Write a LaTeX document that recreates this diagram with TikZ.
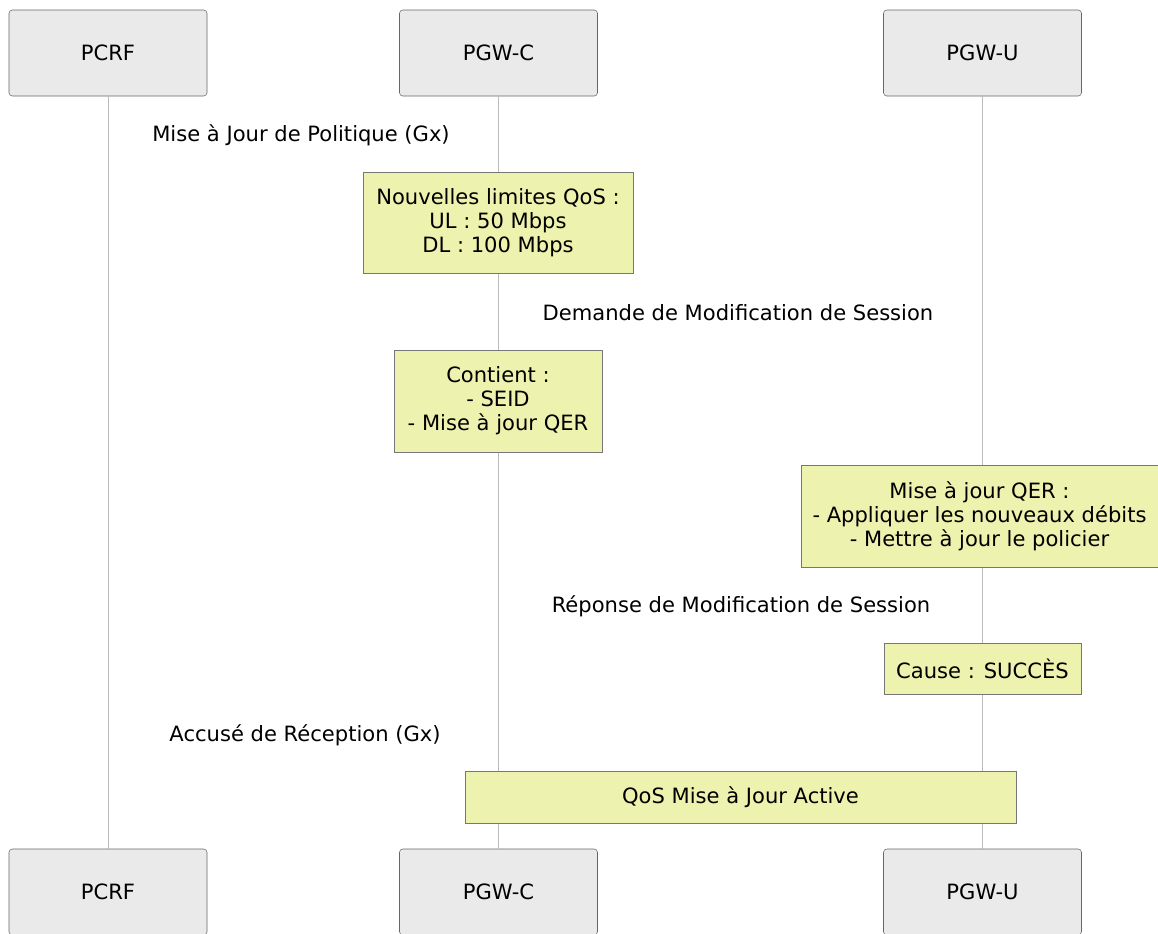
\documentclass[tikz,border=0pt]{standalone}
\usepackage{fontspec}
\setmainfont{DejaVu Sans}
\usetikzlibrary{positioning}
\definecolor{actorfill}{HTML}{EAEAEA}
\definecolor{actorline}{HTML}{666666}
\definecolor{notefill}{HTML}{EDF2AE}
\definecolor{noteline}{HTML}{777777}
\definecolor{lifeline}{HTML}{BBBBBB}
\tikzset{
  actor/.style={draw=actorline, fill=actorfill, rounded corners=2.5pt,
    minimum width=148.5pt, minimum height=64.5pt, font=\fontsize{15.8}{18}\selectfont},
  note/.style={draw=noteline, fill=notefill, align=center, inner sep=0pt,
    font=\fontsize{15.8}{18}\selectfont},
  msg/.style={font=\fontsize{15.8}{18}\selectfont},
}

\begin{document}
\begin{tikzpicture}[x=0.75pt, y=-0.75pt]
  \useasboundingbox (0,0) rectangle (1158,933);
  % actors, top and bottom
  \foreach \name/\x/\txt in {pcrf/108/PCRF, pgwc/498.5/PGW-C, pgwu/982.5/PGW-U} {
    \node[actor] (\name) at (\x,53) {\txt};
    \node[actor] (\name B) at (\x,892) {\txt};
    \draw[lifeline, line width=0.75pt] (\name.south) -- (\name B.north);
  }
  % messages
  \node[msg] (polup) at (301,135) {Mise à Jour de Politique (Gx)};
  \node[note, minimum width=202.5pt, minimum height=75.75pt] (limits) at (498,222.5)
    {Nouvelles limites QoS :\\UL : 50 Mbps\\DL : 100 Mbps};
  \node[msg] (modreq) at (738,313) {Demande de Modification de Session};
  \node[note, minimum width=156pt, minimum height=76.5pt] (contains) at (498,401)
    {Contient :\\- SEID\\- Mise à jour QER};
  \node[note, minimum width=267.75pt, minimum height=76.5pt] (qerup) at (979.5,516)
    {Mise à jour QER :\\- Appliquer les nouveaux débits\\- Mettre à jour le policier};
  \node[msg] (modresp) at (741,606) {Réponse de Modification de Session};
  \node[note, minimum width=147.75pt, minimum height=38.25pt] (cause) at (982.5,668.5)
    {Cause : SUCCÈS};
  \node[msg] (ack) at (305,735) {Accusé de Réception (Gx)};
  \node[note, minimum width=413.25pt, minimum height=39pt] (active) at (740.5,797)
    {QoS Mise à Jour Active};
\end{tikzpicture}
\end{document}
